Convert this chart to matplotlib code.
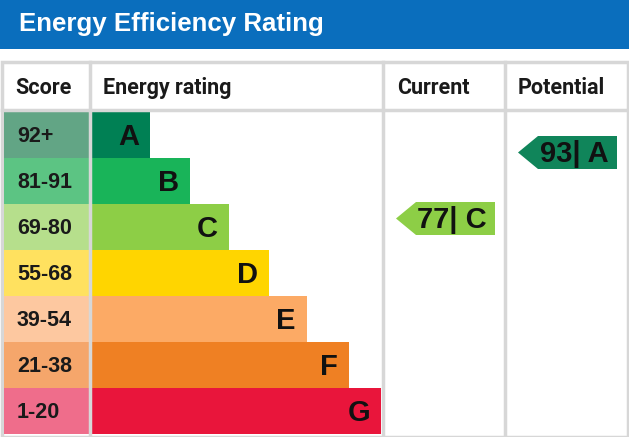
import numpy as np
import matplotlib
matplotlib.use("Agg")
import matplotlib.pyplot as plt
from matplotlib.patches import Rectangle, Polygon

# chart content
title = "Energy Efficiency Rating"
columns = ["Score", "Energy rating", "Current", "Potential"]
bands = ["A", "B", "C", "D", "E", "F", "G"]
score_ranges = ["92+", "81-91", "69-80", "55-68", "39-54", "21-38", "1-20"]
current_score = 77
current_band = "C"
potential_score = 93
potential_band = "A"

# styling / layout
band_colors = ["#008054", "#19b459", "#8dce46", "#ffd500", "#fcaa65", "#ef8023", "#e9153b"]
score_colors = ["#62a585", "#5cc483", "#b6df8c", "#ffe15f", "#fdc8a0", "#f5a66b", "#ef6d8b"]
bar_widths = [60, 100, 139, 179, 217, 259, 291]
grey = "#d7d7d7"
blue = "#0a6ebd"

W, H = 629, 437
row_top0, row_h = 112, 46
col_x = [4, 90, 383, 505, 627]

plt.rcParams['font.family'] = ['Liberation Sans', 'DejaVu Sans']
fig = plt.figure(figsize=(W / 100, H / 100), dpi=100)
ax = fig.add_axes([0, 0, 1, 1])
ax.set_xlim(0, W)
ax.set_ylim(H, 0)
ax.axis('off')

# title band
ax.add_patch(Rectangle((0, 0), W, 49, color=blue, lw=0))
ax.text(19, 24, title, color="white", fontsize=18.6, fontweight="bold", va="center", ha="left")

# table frame
ax.add_patch(Rectangle((2, 62), W - 3, H - 62, facecolor="white", edgecolor=grey, lw=2.5))
ax.plot([2, W], [110, 110], color=grey, lw=2.5)
for x in col_x[1:-1]:
    ax.plot([x, x], [62, H], color=grey, lw=2.5)

# header labels
header_x = [15, 103, 397, 518]
for hx, name in zip(header_x, columns):
    ax.text(hx, 88, name, fontsize=15.5, fontweight="bold", va="center", ha="left",
            color="#1a1a1a", family=["Roboto", "DejaVu Sans"])

# rating rows
centers = row_top0 + row_h / 2 + np.arange(len(bands)) * row_h
ax.barh(centers, col_x[1] - col_x[0], left=col_x[0], height=row_h, color=score_colors, lw=0)
ax.barh(centers, bar_widths, left=col_x[1], height=row_h, color=band_colors, lw=0)
for yc, rng, band, w in zip(centers, score_ranges, bands, bar_widths):
    ax.text(17, yc + 1, rng, fontsize=15.5, fontweight="bold", va="center", ha="left", color="#1a1a1a")
    ax.text(col_x[1] + w - 11, yc + 2, band, fontsize=21, fontweight="bold", va="center",
            ha="right", color="#111111")


def score_y(s):
    # arrow vertical position follows the score
    return 152.5 + (93 - s) * 4.125


def arrow(x_tip, score, band, color):
    yc = score_y(score)
    h = 33
    pts = [(x_tip, yc), (x_tip + 20, yc - h / 2), (x_tip + 99, yc - h / 2),
           (x_tip + 99, yc + h / 2), (x_tip + 20, yc + h / 2)]
    ax.add_patch(Polygon(pts, closed=True, color=color, lw=0))
    ax.text(x_tip + 56, yc + 1, f"{score}| {band}", fontsize=21, fontweight="bold",
            va="center", ha="center", color="#111111")


arrow(396, current_score, current_band, band_colors[bands.index(current_band)])
arrow(518, potential_score, potential_band, "#10855a")

fig.savefig("out.png", dpi=100)
